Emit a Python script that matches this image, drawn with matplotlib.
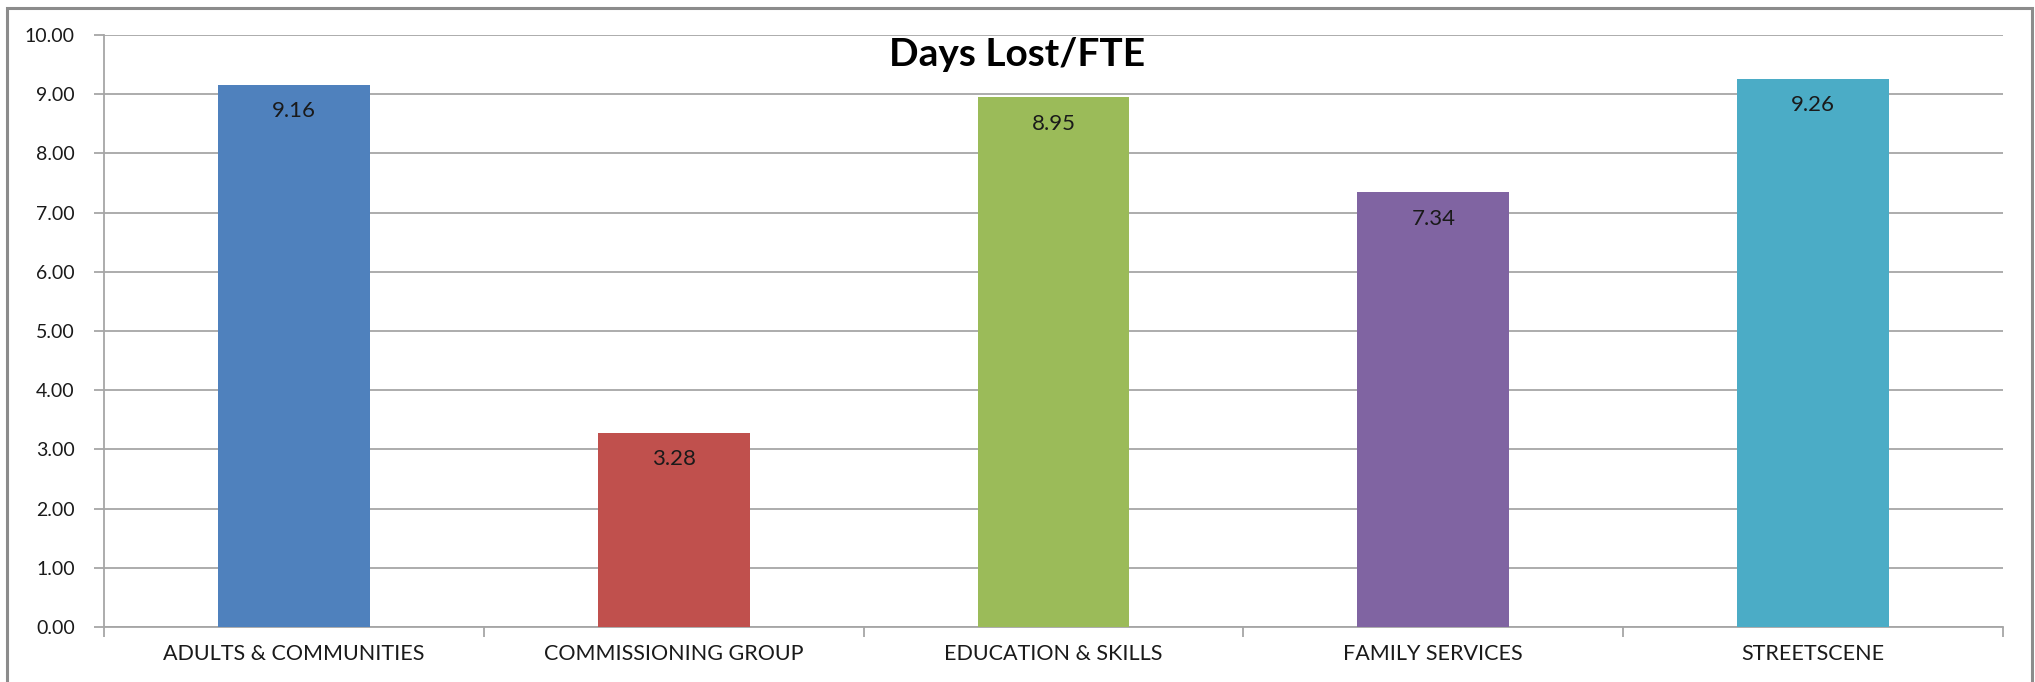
import numpy as np
import matplotlib
matplotlib.use('Agg')
import matplotlib.pyplot as plt
from matplotlib.patches import Rectangle
from matplotlib.ticker import FormatStrFormatter, MultipleLocator

# chart data
categories = ["ADULTS & COMMUNITIES", "COMMISSIONING GROUP", "EDUCATION & SKILLS",
              "FAMILY SERVICES", "STREETSCENE"]
days_lost = [9.16, 3.28, 8.95, 7.34, 9.26]
bar_colors = ["#4F81BD", "#C0504D", "#9BBB59", "#8064A2", "#4BACC6"]
title = "Days Lost/FTE"

plt.rcParams['font.family'] = ['Lato', 'DejaVu Sans']

W, H = 2035, 682
fig = plt.figure(figsize=(W / 100, H / 100), dpi=100)

# outer chart border
fig.patches.append(Rectangle((7 / W, -0.02), (2032 - 7) / W, 1.02 - 8 / H,
                             transform=fig.transFigure, fill=False,
                             edgecolor='#8c8c8c', linewidth=2.2))

ax = fig.add_axes([104 / W, 1 - 627 / H, (2003 - 104) / W, (627 - 35) / H])

x = np.arange(len(categories))
bars = ax.bar(x, days_lost, width=0.4, color=bar_colors, zorder=3)

for rect, val in zip(bars, days_lost):
    ax.annotate(f"{val:.2f}", (rect.get_x() + rect.get_width() / 2, val),
                xytext=(0, -19), textcoords='offset points', ha='center', va='center',
                fontsize=16, color='#1a1a1a', zorder=4)

ax.set_xlim(-0.5, len(categories) - 0.5)
ax.set_ylim(0, 10)
ax.yaxis.set_major_locator(MultipleLocator(1))
ax.yaxis.set_major_formatter(FormatStrFormatter('%.2f'))
ax.grid(axis='y', color='#a6a6a6', linewidth=1.3, zorder=0)
ax.set_axisbelow(True)

ax.set_xticks(x)
ax.set_xticklabels(categories)
ax.set_xticks(np.arange(len(categories) + 1) - 0.5, minor=True)
ax.tick_params(axis='x', which='major', length=0, pad=12, labelsize=15.5, labelcolor='#1a1a1a')
ax.tick_params(axis='x', which='minor', length=7, color='#a6a6a6', width=1.3)
ax.tick_params(axis='y', length=7, color='#a6a6a6', width=1.3, pad=14,
               labelsize=14, labelcolor='#1a1a1a')

for side in ['top', 'right']:
    ax.spines[side].set_visible(False)
for side in ['left', 'bottom']:
    ax.spines[side].set_color('#a6a6a6')
    ax.spines[side].set_linewidth(1.3)

fig.text(0.5, 1 - 55 / H, title, ha='center', va='center',
         fontsize=28, fontweight='bold', color='black')

fig.savefig('out.png', dpi=100)
